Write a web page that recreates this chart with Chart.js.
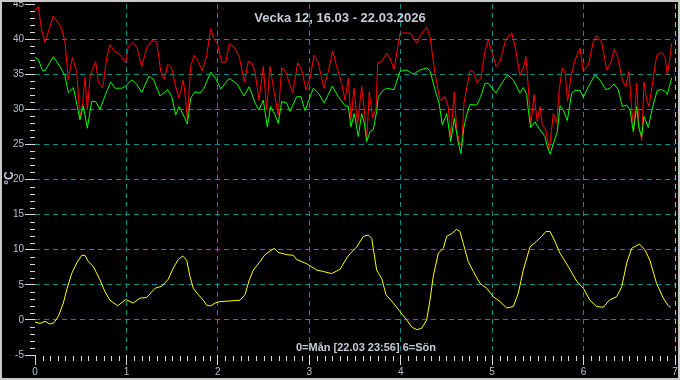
<!DOCTYPE html>
<html>
<head>
<meta charset="utf-8">
<script src="https://cdn.jsdelivr.net/npm/chart.js@4.4.1/dist/chart.umd.min.js"></script>
<style>
  html, body { margin: 0; padding: 0; background: #000; }
  #wrap { width: 680px; height: 380px; }
</style>
</head>
<body>
<div id="wrap"><canvas id="temp"></canvas></div>
<script>
// Dagar (0 = måndag) och temperaturer i °C
const dayTicks = [0, 1, 2, 3, 4, 5, 6, 7];

const redDays = [0.000,0.036,0.073,0.109,0.200,0.255,0.292,0.328,0.364,0.408,0.456,0.492,0.522,0.547,0.572,0.602,0.627,0.664,0.692,0.740,
  0.784,0.820,0.875,0.930,0.992,1.020,1.075,1.119,1.167,1.222,1.276,1.331,1.375,1.414,1.451,1.495,1.539,1.575,1.622,1.648,
  1.666,1.703,1.739,1.786,1.830,1.878,1.922,1.961,1.994,2.042,2.086,2.125,2.177,2.234,2.289,2.333,2.370,2.406,2.450,2.497,
  2.534,2.570,2.606,2.661,2.698,2.742,2.770,2.818,2.873,2.917,2.964,3.008,3.052,3.099,3.161,3.208,3.256,3.300,3.354,3.391,
  3.427,3.456,3.489,3.529,3.573,3.602,3.628,3.656,3.693,3.730,3.748,3.792,3.847,3.883,3.927,3.992,4.047,4.109,4.175,4.229,
  4.284,4.320,4.375,4.430,4.484,4.520,4.547,4.586,4.612,4.648,4.670,4.692,4.722,4.758,4.794,4.838,4.875,4.922,4.958,5.002,
  5.042,5.086,5.148,5.214,5.258,5.305,5.341,5.370,5.395,5.422,5.458,5.494,5.523,5.549,5.586,5.625,5.669,5.706,5.734,5.767,
  5.797,5.826,5.862,5.906,5.961,5.997,6.052,6.106,6.143,6.198,6.253,6.297,6.333,6.369,6.424,6.461,6.497,6.526,6.551,6.581,
  6.606,6.636,6.661,6.691,6.716,6.756,6.800,6.854,6.890,6.916,6.938,6.964];
const redTemps = [44.1,44.6,41.3,39.5,43.3,42.3,41.5,39.6,34.2,37.4,35.4,28.8,30.9,34.6,29.9,34.6,35.6,36.8,33.9,33.0,
  37.3,39.2,38.2,37.8,36.6,38.9,39.5,38.7,36.1,38.7,39.8,39.6,35.4,34.3,36.4,35.9,33.2,31.6,34.2,31.3,
  28.5,36.1,37.7,36.8,35.5,37.7,41.5,39.9,39.4,36.7,36.7,39.3,38.9,37.5,33.9,36.8,36.6,35.4,31.3,36.1,
  29.9,36.1,33.2,29.2,35.9,35.4,34.2,32.3,36.6,35.6,32.8,34.4,37.7,36.6,33.0,35.4,38.3,36.1,33.7,31.3,
  34.4,28.5,33.0,27.8,33.3,29.9,25.4,32.5,28.8,30.2,36.6,36.8,38.0,37.3,35.7,40.8,40.9,40.8,39.4,40.8,
  41.7,40.4,35.1,31.3,31.8,30.4,26.1,32.5,27.1,24.9,25.6,30.9,33.0,35.5,35.4,33.7,34.4,38.2,39.9,38.0,
  36.1,36.8,39.9,40.9,38.5,34.8,35.9,37.5,33.2,27.5,32.1,28.2,30.4,27.8,27.1,24.2,29.4,28.0,32.8,35.9,
  35.4,31.1,34.7,37.0,38.7,35.4,36.3,39.6,40.5,39.6,35.6,36.6,38.5,37.7,34.2,33.2,35.4,29.9,27.1,33.7,
  27.5,25.6,33.9,31.3,30.4,33.9,37.7,38.1,37.5,34.9,36.8,39.4];

const greenDays = [0.000,0.036,0.084,0.109,0.200,0.273,0.328,0.364,0.419,0.463,0.492,0.528,0.572,0.620,0.664,0.711,0.777,0.828,0.875,0.948,
  0.992,1.058,1.112,1.167,1.247,1.294,1.367,1.451,1.495,1.539,1.575,1.622,1.666,1.703,1.750,1.805,1.848,1.922,1.976,2.031,
  2.122,2.206,2.286,2.341,2.370,2.406,2.450,2.497,2.541,2.578,2.625,2.661,2.698,2.753,2.789,2.862,2.909,2.953,3.044,3.099,
  3.164,3.252,3.317,3.391,3.427,3.456,3.492,3.536,3.573,3.602,3.628,3.664,3.700,3.737,3.755,3.809,3.847,3.927,3.992,4.065,
  4.138,4.211,4.284,4.320,4.375,4.419,4.455,4.503,4.547,4.586,4.630,4.659,4.692,4.722,4.758,4.831,4.875,4.922,4.958,5.042,
  5.104,5.170,5.231,5.305,5.341,5.378,5.395,5.422,5.469,5.523,5.578,5.603,5.633,5.677,5.713,5.742,5.778,5.822,5.870,5.906,
  5.961,5.997,6.052,6.125,6.172,6.245,6.289,6.333,6.380,6.424,6.472,6.508,6.544,6.581,6.606,6.636,6.661,6.708,6.756,6.806,
  6.854,6.898,6.916,6.964];
const greenTemps = [37.4,37.1,35.5,35.5,37.5,36.1,34.8,32.4,33.1,30.4,28.5,30.5,27.3,31.1,31.1,30.0,32.3,33.9,33.0,33.0,
  33.3,34.2,33.6,32.4,34.7,34.3,31.9,32.8,31.8,29.2,30.4,29.2,27.9,31.6,32.5,32.3,33.0,35.3,34.4,32.9,
  34.4,33.7,31.9,33.2,32.3,30.9,29.9,31.3,27.5,30.4,29.2,28.0,31.1,30.9,29.7,31.8,31.8,29.8,33.0,32.3,
  30.9,33.3,31.8,30.5,30.4,27.5,29.4,26.1,29.4,28.0,25.4,26.8,27.1,29.7,31.8,32.7,33.0,32.8,35.4,35.6,
  35.0,35.6,35.9,35.5,32.8,30.9,27.8,29.4,25.4,28.7,25.2,23.7,27.5,29.2,30.7,30.6,31.8,33.7,33.7,32.3,
  33.7,34.9,34.2,32.3,33.1,32.1,29.9,27.4,28.2,27.1,26.1,24.7,23.6,25.4,26.8,30.5,29.9,28.4,32.3,32.7,
  32.7,31.7,33.2,34.9,34.3,32.8,33.0,33.6,32.8,30.4,30.6,29.9,26.8,30.4,27.3,26.1,29.0,27.4,30.4,32.7,
  32.8,32.5,32.1,34.5];

const yellowDays = [0.000,0.055,0.109,0.164,0.208,0.255,0.310,0.347,0.401,0.456,0.511,0.547,0.583,0.638,0.711,0.766,0.820,0.905,0.992,1.075,
  1.148,1.222,1.312,1.386,1.458,1.513,1.567,1.615,1.659,1.695,1.731,1.786,1.841,1.878,1.922,1.969,2.023,2.133,2.242,2.297,
  2.344,2.388,2.461,2.516,2.570,2.617,2.661,2.753,2.825,2.862,2.972,3.081,3.153,3.245,3.336,3.409,3.445,3.519,3.591,3.645,
  3.683,3.737,3.792,3.839,3.919,3.992,4.065,4.120,4.175,4.229,4.284,4.320,4.356,4.411,4.466,4.503,4.558,4.612,4.648,4.684,
  4.739,4.794,4.867,4.940,5.013,5.086,5.159,5.231,5.286,5.341,5.414,5.487,5.542,5.589,5.633,5.687,5.742,5.833,5.925,5.997,
  6.070,6.143,6.216,6.281,6.362,6.417,6.472,6.526,6.611,6.670,6.725,6.798,6.872,6.927,6.953];
const yellowTemps = [-0.3,-0.5,-0.2,-0.6,-0.4,0.5,2.4,4.3,6.6,8.1,9.2,9.2,8.3,7.6,5.7,4.0,2.8,2.0,2.9,2.4,
  3.1,3.2,4.5,4.8,5.8,7.4,8.6,9.1,8.5,6.2,4.5,3.6,2.8,2.1,2.0,2.4,2.6,2.7,2.8,3.6,
  5.7,7.1,8.3,9.3,9.8,10.2,9.6,9.3,9.2,8.6,8.0,7.1,6.9,6.6,7.2,8.8,9.4,10.4,11.9,12.1,
  11.6,7.1,5.9,3.6,2.4,1.2,0.0,-1.0,-1.4,-1.2,0.0,2.8,6.2,9.5,10.2,11.9,12.3,12.9,12.6,10.9,
  8.3,6.9,5.2,4.5,3.3,2.6,1.7,1.9,3.8,7.1,10.4,11.2,11.9,12.6,12.6,11.2,9.5,7.6,5.5,4.5,
  2.8,1.9,1.8,2.8,3.3,4.7,8.1,10.2,10.8,10.0,8.5,5.2,3.1,2.0,1.8];

const titleText = 'Vecka 12, 16.03 - 22.03.2026';
const footText = '0=Mån [22.03 23:56] 6=Sön';
const unitText = '°C';

const pts = (xs, ys) => xs.map((d, i) => ({ x: d, y: ys[i] }));

const gridTeal = '#0a8f92';
const tickWhite = '#dcdcdc';
const labelCol = '#b4c0cc';

Chart.defaults.font.family = "'Liberation Sans', Arial, sans-serif";

// svart bakgrund, texter, små streck och ram
const decor = {
  id: 'decor',
  beforeDraw(chart) {
    const ctx = chart.ctx;
    ctx.save();
    ctx.fillStyle = '#000';
    ctx.fillRect(0, 0, chart.width, chart.height);
    ctx.restore();
  },
  afterDraw(chart) {
    const { ctx, chartArea: a, scales } = chart;
    ctx.save();
    // små streck
    ctx.strokeStyle = tickWhite;
    ctx.lineWidth = 1;
    ctx.beginPath();
    for (let v = scales.y.min; v <= scales.y.max; v++) {
      if (v % 5 === 0) continue;
      const py = Math.round(scales.y.getPixelForValue(v)) + 0.5;
      ctx.moveTo(a.left - 5, py);
      ctx.lineTo(a.left, py);
    }
    for (let h = 0; h <= 7 * 12; h++) {
      if (h % 12 === 0) continue;
      const px = Math.round(scales.x.getPixelForValue(h / 12)) + 0.5;
      ctx.moveTo(px, a.bottom + 1);
      ctx.lineTo(px, a.bottom + 6);
    }
    ctx.stroke();

    ctx.fillStyle = '#c4ccd8';
    ctx.textAlign = 'center';
    ctx.textBaseline = 'middle';
    ctx.font = "bold 13px 'Liberation Sans', Arial, sans-serif";
    ctx.fillText(titleText, chart.width / 2, 18);
    ctx.font = "bold 11px 'Liberation Sans', Arial, sans-serif";
    ctx.fillText(footText, 366, 348);

    ctx.save();
    ctx.translate(10, 178);
    ctx.rotate(-Math.PI / 2);
    ctx.font = "bold 12px 'Liberation Sans', Arial, sans-serif";
    ctx.fillText(unitText, 0, 0);
    ctx.restore();

    // ram
    ctx.strokeStyle = '#c8c8c8';
    ctx.lineWidth = 2;
    ctx.strokeRect(1, 1, chart.width - 2, chart.height - 2);
    ctx.restore();
  }
};

new Chart(document.getElementById('temp'), {
  type: 'line',
  data: {
    datasets: [
      { data: pts(yellowDays, yellowTemps), borderColor: '#ffff00', order: 1 },
      { data: pts(greenDays, greenTemps), borderColor: '#00ff00', order: 2 },
      { data: pts(redDays, redTemps), borderColor: '#ff0000', order: 3 }
    ]
  },
  options: {
    responsive: true,
    maintainAspectRatio: false,
    animation: false,
    parsing: false,
    layout: { padding: { top: 4, right: 5, left: 0, bottom: 0 } },
    elements: {
      line: { borderWidth: 1, tension: 0 },
      point: { radius: 0 }
    },
    plugins: { legend: { display: false }, tooltip: { enabled: false } },
    scales: {
      x: {
        type: 'linear',
        min: 0,
        max: 7,
        afterBuildTicks: s => { s.ticks = dayTicks.map(v => ({ value: v })); },
        afterFit: s => { s.height = 25; s.paddingLeft = 0; s.paddingRight = 0; },
        border: { display: false, dash: [5, 4] },
        grid: {
          color: c => c.tick && c.tick.value === 7 ? '#3ce4f0' : (c.tick && c.tick.value === 0 ? 'transparent' : gridTeal),
          tickColor: tickWhite,
          tickLength: 10
        },
        ticks: { color: labelCol, font: { size: 10 }, padding: 1, maxRotation: 0 }
      },
      y: {
        min: -5,
        max: 45,
        afterFit: s => { s.width = 35; s.paddingTop = 0; s.paddingBottom = 0; },
        border: { display: false, dash: [5, 4] },
        grid: {
          color: c => c.tick && (c.tick.value === -5 || c.tick.value === 45) ? 'transparent' : gridTeal,
          tickColor: tickWhite,
          tickLength: 10
        },
        ticks: { stepSize: 5, color: labelCol, font: { size: 10 }, padding: 1 }
      }
    }
  },
  plugins: [decor]
});
</script>
</body>
</html>
